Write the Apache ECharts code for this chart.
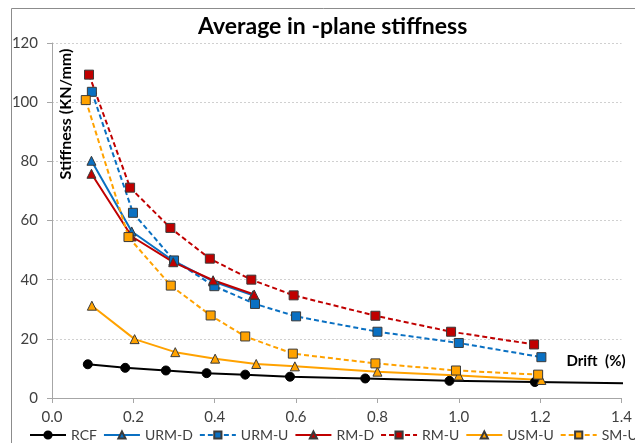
<!DOCTYPE html>
<html>
<head>
<meta charset="utf-8">
<script src="https://cdn.jsdelivr.net/npm/echarts@6/dist/echarts.min.js"></script>
<style>
  html, body { margin: 0; padding: 0; background: #fff; }
  #chart { width: 635px; height: 443px; }
</style>
</head>
<body>
<div id="chart"></div>
<script>
// values: drift (%) and stiffness (KN/mm)
var rcfDrift = [0.088, 0.18, 0.28, 0.38, 0.475, 0.585, 0.77, 0.977, 1.187, 1.45];
var rcfStiff = [11.4, 10.2, 9.3, 8.4, 7.9, 7.2, 6.6, 5.8, 5.4, 4.9];

var urmdDrift = [0.097, 0.196, 0.298, 0.396, 0.494];
var urmdStiff = [80.2, 56.3, 46.4, 39.4, 34.7];

var urmuDrift = [0.098, 0.199, 0.3, 0.399, 0.499, 0.6, 0.8, 1.0, 1.203];
var urmuStiff = [103.5, 62.6, 46.5, 37.8, 31.8, 27.6, 22.4, 18.6, 13.8];

var rmdDrift = [0.097, 0.196, 0.298, 0.396, 0.497];
var rmdStiff = [75.8, 54.6, 45.9, 39.8, 35.0];

var rmuDrift = [0.091, 0.192, 0.291, 0.388, 0.49, 0.594, 0.795, 0.981, 1.185];
var rmuStiff = [109.3, 71.1, 57.5, 47.1, 40.0, 34.7, 27.8, 22.4, 18.1];

var usmuDrift = [0.098, 0.203, 0.303, 0.401, 0.502, 0.597, 0.8, 1.0, 1.203];
var usmuStiff = [31.2, 19.9, 15.5, 13.3, 11.5, 10.7, 8.9, 7.6, 6.1];

var smuDrift = [0.083, 0.188, 0.292, 0.39, 0.475, 0.592, 0.795, 0.993, 1.195];
var smuStiff = [100.7, 54.4, 38.0, 27.9, 20.8, 15.0, 11.7, 9.3, 7.9];

var xTicks = ['0.0', '0.2', '0.4', '0.6', '0.8', '1.0', '1.2', '1.4'];
var yTicks = ['0', '20', '40', '60', '80', '100', '120'];

var FONT = 'Lato, "Open Sans", sans-serif';
var BLUE = '#0a70c2';
var RED = '#c00000';
var ORANGE = '#ffa200';

function pairs(xs, ys) {
    return xs.map(function (x, i) { return [x, ys[i]]; });
}

function makeSeries(name, xs, ys, color, dashed, symbol, fill) {
    return {
        name: name,
        type: 'line',
        data: pairs(xs, ys),
        symbol: symbol,
        symbolSize: 9,
        showSymbol: true,
        lineStyle: { color: color, width: 2, type: dashed ? [5, 3] : 'solid' },
        itemStyle: { color: fill || color, borderColor: '#3a3a3a', borderWidth: 1 },
        emphasis: { disabled: true },
        animation: false
    };
}

var chart = echarts.init(document.getElementById('chart'));

var rcf = makeSeries('RCF', rcfDrift, rcfStiff, '#000', false, 'circle', '#000');
rcf.clip = false;
rcf.itemStyle.borderColor = '#000';
// last point only carries the line past the right edge
rcf.data[rcf.data.length - 1] = { value: rcf.data[rcf.data.length - 1], symbol: 'none' };

var option = {
    backgroundColor: '#fff',
    animation: false,
    title: {
        text: 'Average in -plane stiffness',
        left: 193,
        top: 10,
        textStyle: { fontFamily: FONT, fontSize: 23, fontWeight: 'bold', color: '#000' }
    },
    grid: { left: 52, right: 8, top: 43, bottom: 45, containLabel: false },
    xAxis: {
        type: 'value',
        min: 0,
        max: 1.4,
        interval: 0.2,
        axisLine: { show: true, lineStyle: { color: '#a6a6a6', width: 1 } },
        axisTick: { show: true, inside: false, length: 5, lineStyle: { color: '#a6a6a6' } },
        axisLabel: {
            margin: 12,
            fontFamily: FONT, fontSize: 15, color: '#404040',
            formatter: function (v) { return xTicks[Math.round(v / 0.2)]; }
        },
        splitLine: { show: false }
    },
    yAxis: {
        type: 'value',
        min: 0,
        max: 120,
        interval: 20,
        axisLine: { show: true, lineStyle: { color: '#a6a6a6', width: 1 } },
        axisTick: { show: true, length: 5, lineStyle: { color: '#a6a6a6' } },
        axisLabel: {
            margin: 14,
            fontFamily: FONT, fontSize: 15, color: '#404040',
            formatter: function (v) { return yTicks[Math.round(v / 20)]; }
        },
        splitLine: { show: true, lineStyle: { color: '#d0d0d0', type: [2, 2] } }
    },
    legend: {
        left: 24,
        top: 423,
        width: 900,
        itemWidth: 36,
        itemHeight: 9,
        itemGap: 6,
        textStyle: { fontFamily: FONT, fontSize: 14, color: '#404040' },
        data: ['RCF', 'URM-D', 'URM-U', 'RM-D', 'RM-U', 'USM-U', 'SM-U']
    },
    graphic: [
        {
            type: 'rect',
            shape: { x: 11.5, y: 8.5, width: 700, height: 500 },
            style: { fill: 'none', stroke: '#8c8c8c', lineWidth: 1 },
            silent: true,
            z: -1
        },
        {
            type: 'text',
            x: 66,
            y: 114,
            rotation: Math.PI / 2,
            style: {
                text: 'Stiffness (KN/mm)',
                fontFamily: FONT, fontSize: 16, fontWeight: 'bold', fill: '#000',
                textAlign: 'center', textVerticalAlign: 'middle'
            }
        },
        {
            type: 'text',
            x: 596,
            y: 361,
            style: {
                text: 'Drift  (%)',
                fontFamily: FONT, fontSize: 15, fontWeight: 'bold', fill: '#000',
                textAlign: 'center', textVerticalAlign: 'middle'
            }
        }
    ],
    series: [
        rcf,
        makeSeries('URM-D', urmdDrift, urmdStiff, BLUE, false, 'triangle'),
        makeSeries('URM-U', urmuDrift, urmuStiff, BLUE, true, 'rect'),
        makeSeries('RM-D', rmdDrift, rmdStiff, RED, false, 'triangle'),
        makeSeries('RM-U', rmuDrift, rmuStiff, RED, true, 'rect'),
        makeSeries('USM-U', usmuDrift, usmuStiff, ORANGE, false, 'triangle'),
        makeSeries('SM-U', smuDrift, smuStiff, ORANGE, true, 'rect')
    ]
};

option && chart.setOption(option);
</script>
</body>
</html>
